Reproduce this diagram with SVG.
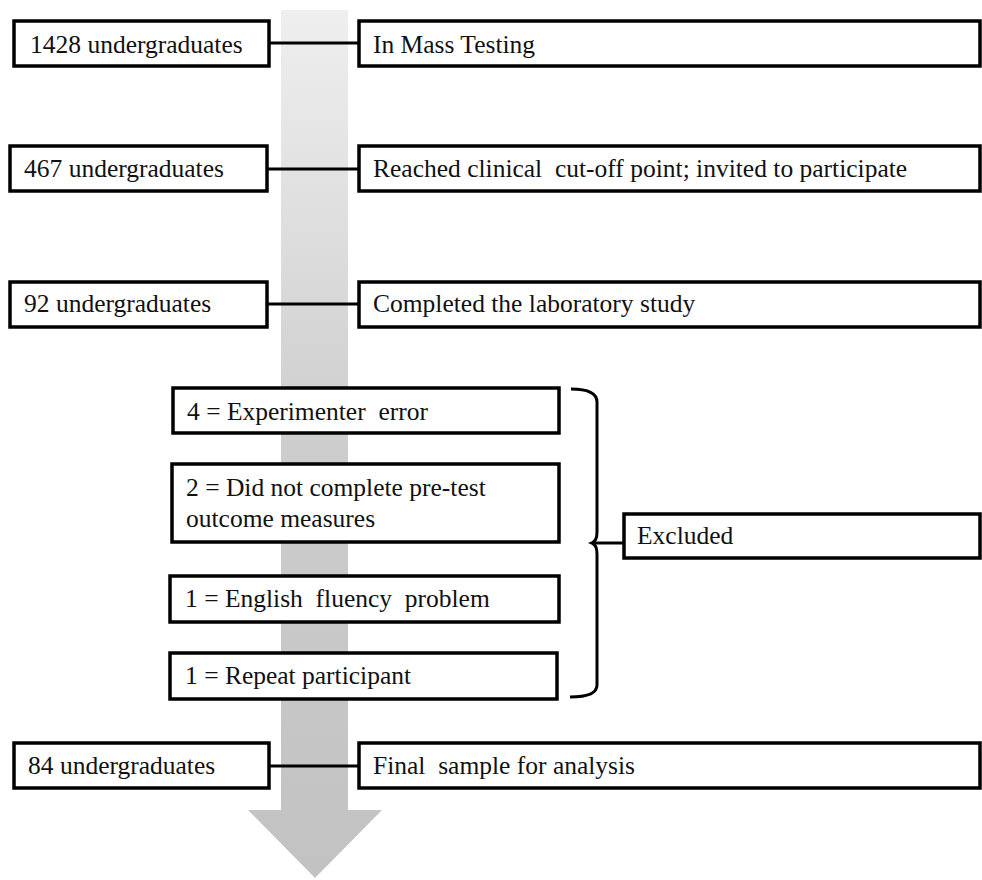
<svg xmlns="http://www.w3.org/2000/svg" width="982" height="880" viewBox="0 0 982 880">
<defs>
<linearGradient id="g" x1="0" y1="0" x2="0" y2="1">
<stop offset="0" stop-color="#efefef"/>
<stop offset="0.5" stop-color="#cdcdcd"/>
<stop offset="1" stop-color="#c2c2c2"/>
</linearGradient>
<style>
.b{fill:#fff;stroke:#000;stroke-width:3.5}
.t{font-size:25.5px;fill:#111}
.c{stroke:#000;stroke-width:3;fill:none}
</style>
</defs>
<rect width="982" height="880" fill="#fff"/>
<path id="flow-arrow" d="M281,10 H348 V810 H382 L315,878 L248,810 H281 Z" fill="url(#g)"/>
<g id="connectors">
<line class="c" x1="268" y1="43" x2="359" y2="43"/>
<line class="c" x1="267" y1="169" x2="359" y2="169"/>
<line class="c" x1="267" y1="304" x2="359" y2="304"/>
<line class="c" x1="267" y1="766" x2="359" y2="766"/>
<path class="c" d="M571,389 Q597,389 597,402 V532 Q597,541 592,543 Q597,545 597,554 V685 Q597,697 570,697"/>
<line class="c" x1="595" y1="543" x2="624" y2="543"/>
</g>
<g font-family="'Liberation Serif', 'Times New Roman', 'DejaVu Serif', serif">
<g id="n1428"><rect class="b" x="14" y="21" width="255" height="45"/><text class="t" x="30" y="53">1428 undergraduates</text></g>
<g id="nMass"><rect class="b" x="359" y="21" width="621" height="45"/><text class="t" x="373" y="53">In Mass Testing</text></g>
<g id="n467"><rect class="b" x="10" y="146" width="257" height="45"/><text class="t" x="24" y="177">467 undergraduates</text></g>
<g id="nReached"><rect class="b" x="359" y="146" width="621" height="45"/><text class="t" x="373" y="177" xml:space="preserve">Reached clinical  cut-off point; invited to participate</text></g>
<g id="n92"><rect class="b" x="10" y="282" width="257" height="45"/><text class="t" x="24" y="312">92 undergraduates</text></g>
<g id="nCompleted"><rect class="b" x="359" y="282" width="621" height="45"/><text class="t" x="373" y="312">Completed the laboratory study</text></g>
<g id="nExp"><rect class="b" x="173" y="388" width="386" height="45"/><text class="t" x="187" y="420" xml:space="preserve">4 = Experimenter  error</text></g>
<g id="nPre"><rect class="b" x="172" y="464" width="387" height="78"/><text class="t" x="186" y="496">2 = Did not complete pre-test</text><text class="t" x="186" y="527">outcome measures</text></g>
<g id="nEng"><rect class="b" x="170" y="576" width="389" height="46"/><text class="t" x="185" y="607" xml:space="preserve">1 = English  fluency  problem</text></g>
<g id="nRep"><rect class="b" x="170" y="653" width="387" height="46"/><text class="t" x="185" y="684">1 = Repeat participant</text></g>
<g id="nExcluded"><rect class="b" x="624" y="514" width="356" height="44"/><text class="t" x="637" y="544">Excluded</text></g>
<g id="n84"><rect class="b" x="14" y="743" width="255" height="45"/><text class="t" x="28" y="774">84 undergraduates</text></g>
<g id="nFinal"><rect class="b" x="359" y="743" width="621" height="45"/><text class="t" x="373" y="774" xml:space="preserve">Final  sample for analysis</text></g>
</g>
</svg>
